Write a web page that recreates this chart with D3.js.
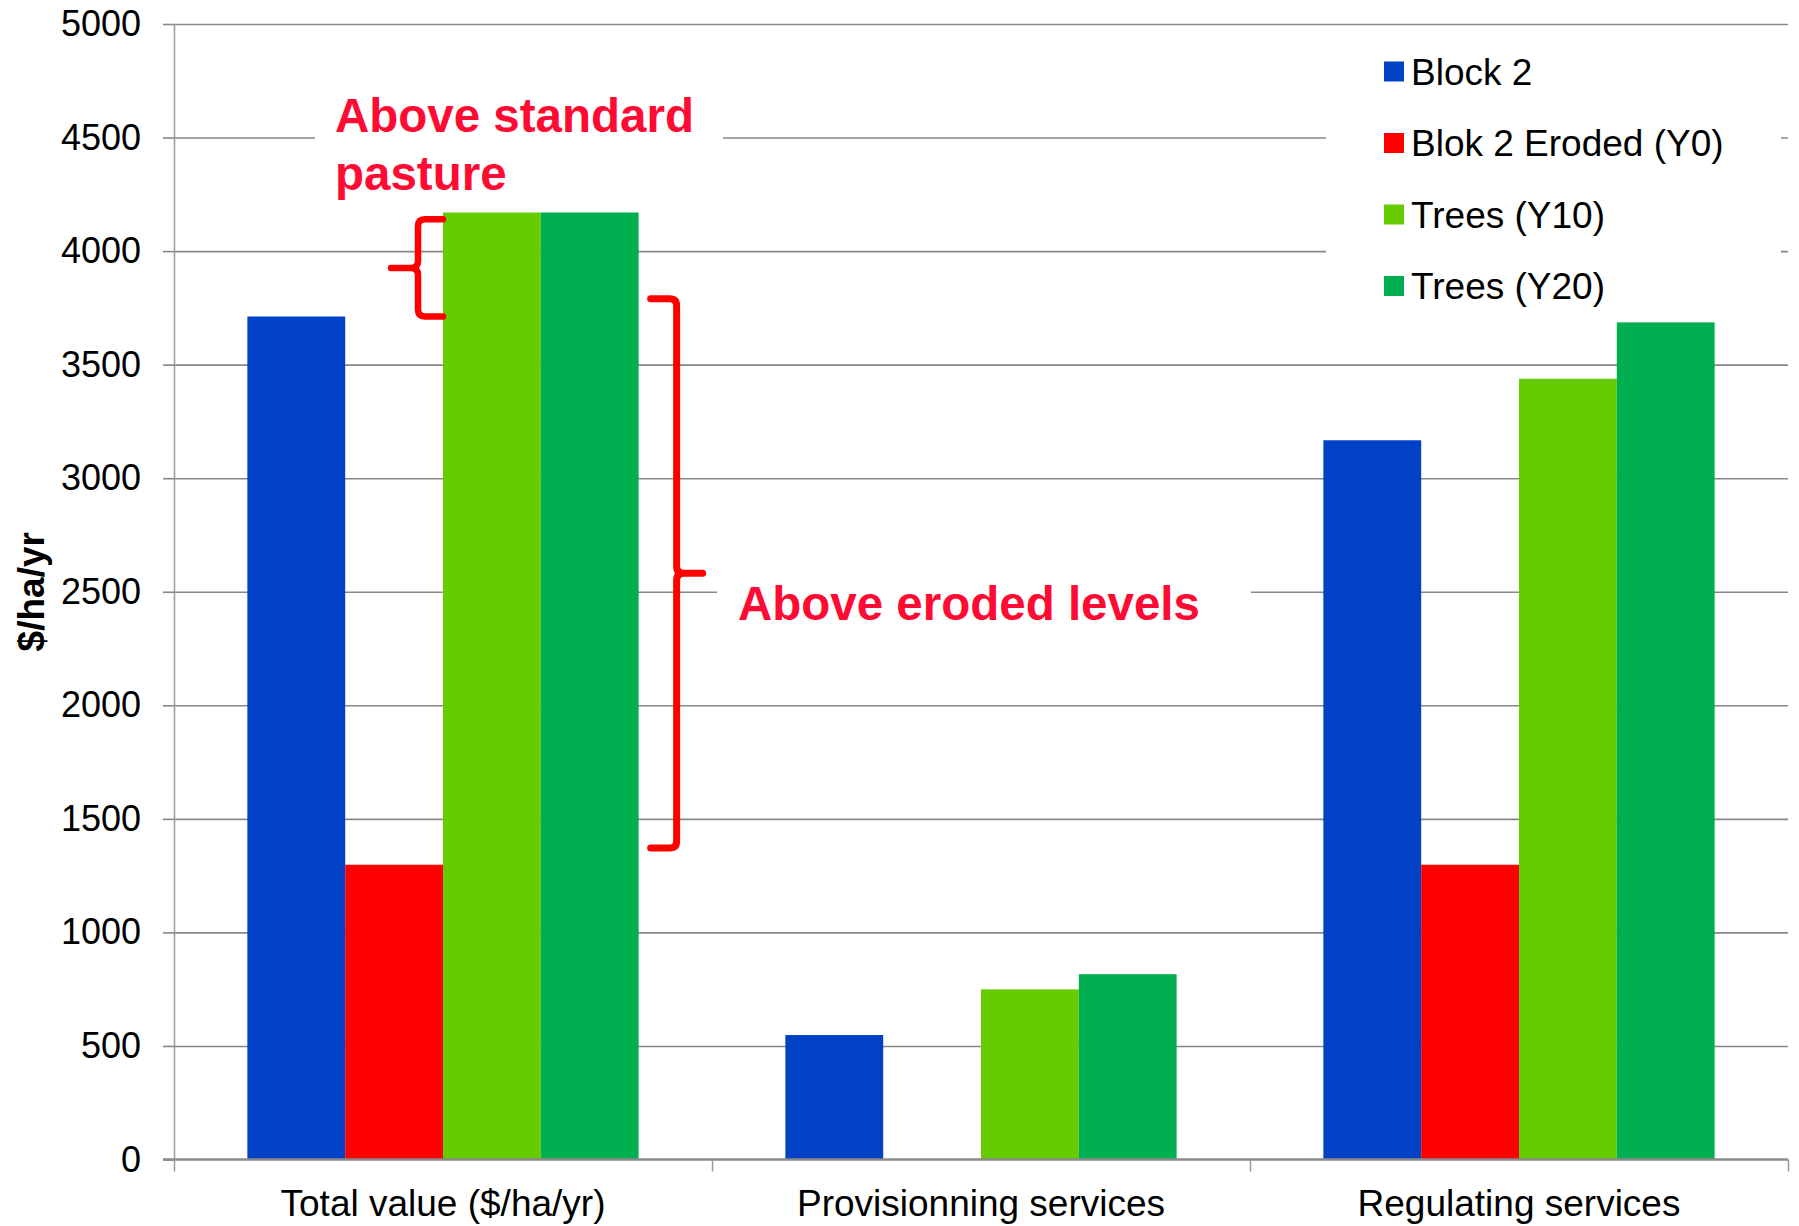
<!DOCTYPE html>
<html>
<head>
<meta charset="utf-8">
<script src="https://cdn.jsdelivr.net/npm/d3@7"></script>
<style>
  html, body { margin: 0; padding: 0; background: #fff; }
  svg { display: block; font-family: "Liberation Sans", Arial, sans-serif; }
</style>
</head>
<body>
<svg id="chart" width="1799" height="1226"></svg>
<script>
// Ecosystem service values per hectare per year
const categories = ["Total value ($/ha/yr)", "Provisionning services", "Regulating services"];
const seriesNames = ["Block 2", "Blok 2 Eroded (Y0)", "Trees (Y10)", "Trees (Y20)"];
const seriesColors = ["#0041c6", "#ff0000", "#66cc00", "#00af50"];
const block2 = [3712, 548, 3167];
const block2Eroded = [1298, 0, 1298];
const treesY10 = [4170, 749, 3438];
const treesY20 = [4170, 816, 3686];
const seriesValues = [block2, block2Eroded, treesY10, treesY20];
const yTicks = [0, 500, 1000, 1500, 2000, 2500, 3000, 3500, 4000, 4500, 5000];

const svg = d3.select("#chart");
const plot = { left: 174, right: 1788, top: 24, bottom: 1159.5 };

const y = d3.scaleLinear().domain([0, 5000]).range([plot.bottom, plot.top]);
const x0 = d3.scaleBand().domain(categories).range([plot.left, plot.right]).padding(0);
const band = x0.bandwidth();
const barW = band / 5.5;             // gap width of 150 %
const gap = barW * 0.75;
const x1 = d3.scaleBand().domain(seriesNames).range([gap, band - gap]).padding(0);

// horizontal gridlines
svg.append("g")
  .attr("transform", `translate(${plot.left},0)`)
  .call(d3.axisLeft(y).tickValues(yTicks.filter(v => v > 0)).tickSize(-(plot.right - plot.left)).tickFormat(""))
  .call(g => g.select(".domain").remove())
  .call(g => g.selectAll("line").attr("stroke", "#878787").attr("stroke-width", 1.6));

// white boxes behind the annotations and legend interrupt the gridlines
svg.append("rect").attr("x", 315).attr("y", 84).attr("width", 408).attr("height", 118).attr("fill", "#fff");
svg.append("rect").attr("x", 717).attr("y", 556).attr("width", 534).attr("height", 90).attr("fill", "#fff");
svg.append("rect").attr("x", 1326).attr("y", 36).attr("width", 455).attr("height", 296).attr("fill", "#fff");

// y axis with outer ticks and labels
const yAxis = svg.append("g")
  .attr("transform", `translate(${plot.left},0)`)
  .call(d3.axisLeft(y).tickValues(yTicks).tickSize(11).tickPadding(22).tickFormat(d3.format("d")));
yAxis.select(".domain").attr("stroke", "#9a9a9a").attr("stroke-width", 1.5).attr("d", `M0.5,${plot.top}V${plot.bottom}`);
yAxis.selectAll(".tick line").attr("stroke", "#878787").attr("stroke-width", 1.6);
yAxis.selectAll(".tick text").attr("font-size", 36).attr("fill", "#000")
  .attr("font-family", "Liberation Sans, Arial, sans-serif");

// bars
const groups = svg.append("g").selectAll("g")
  .data(categories)
  .join("g")
  .attr("transform", d => `translate(${x0(d)},0)`);

groups.selectAll("rect")
  .data((d, ci) => seriesNames.map((s, si) => ({ s, si, v: seriesValues[si][ci] })))
  .join("rect")
  .attr("x", d => x1(d.s))
  .attr("width", x1.bandwidth())
  .attr("y", d => y(d.v))
  .attr("height", d => y(0) - y(d.v))
  .attr("fill", d => seriesColors[d.si]);

// category axis along zero
const xAxis = svg.append("g")
  .attr("transform", `translate(0,${plot.bottom})`)
  .call(d3.axisBottom(x0).tickSize(0).tickPadding(30));
xAxis.select(".domain").remove();
xAxis.selectAll(".tick text").attr("font-size", 37).attr("fill", "#000")
  .attr("font-family", "Liberation Sans, Arial, sans-serif");
svg.append("line")
  .attr("x1", plot.left - 11).attr("x2", plot.right)
  .attr("y1", plot.bottom).attr("y2", plot.bottom)
  .attr("stroke", "#8a8a8a").attr("stroke-width", 2.5);
const boundaries = categories.map(c => x0(c)).concat([plot.right]);
svg.append("g").selectAll("line")
  .data(boundaries)
  .join("line")
  .attr("x1", d => d + 0.5).attr("x2", d => d + 0.5)
  .attr("y1", plot.bottom).attr("y2", plot.bottom + 12)
  .attr("stroke", "#9a9a9a").attr("stroke-width", 1.5);

// y axis title
svg.append("text")
  .attr("transform", `translate(44,${(plot.top + plot.bottom) / 2}) rotate(-90)`)
  .attr("text-anchor", "middle")
  .attr("font-size", 37).attr("font-weight", "bold").attr("fill", "#000")
  .text("$/ha/yr");

// curly brace: vertical spine at xs, arms reaching to xe, tip pointing toward xt
function brace(xs, xe, xt, yTop, yBot) {
  const r = 7;
  const dirArm = Math.sign(xe - xs);
  const dirTip = Math.sign(xt - xs);
  const ym = (yTop + yBot) / 2;
  const p = d3.path();
  p.moveTo(xe, yTop);
  p.lineTo(xs + dirArm * r, yTop);
  p.quadraticCurveTo(xs, yTop, xs, yTop + r);
  p.lineTo(xs, ym - r);
  p.quadraticCurveTo(xs, ym, xs + dirTip * r, ym);
  p.lineTo(xt, ym);
  p.moveTo(xs + dirTip * r, ym);
  p.quadraticCurveTo(xs, ym, xs, ym + r);
  p.lineTo(xs, yBot - r);
  p.quadraticCurveTo(xs, yBot, xs + dirArm * r, yBot);
  p.lineTo(xe, yBot);
  return p.toString();
}

const totalX = x0(categories[0]);
const y10Left = totalX + x1(seriesNames[2]);
const y20Right = totalX + x1(seriesNames[3]) + x1.bandwidth();

svg.append("path")
  .attr("d", brace(y10Left - 25, y10Left, y10Left - 52, y(4140), y(3712)))
  .attr("fill", "none").attr("stroke", "#ff0000").attr("stroke-width", 6.5)
  .attr("stroke-linecap", "round").attr("stroke-linejoin", "round");

svg.append("path")
  .attr("d", brace(y20Right + 38, y20Right + 12, y20Right + 64, y(3790), y(1372)))
  .attr("fill", "none").attr("stroke", "#ff0000").attr("stroke-width", 7)
  .attr("stroke-linecap", "round").attr("stroke-linejoin", "round");

// annotation labels
const noteColor = "#ff0a32";
const note1 = svg.append("text").attr("font-size", 47.5).attr("font-weight", "bold").attr("fill", noteColor);
note1.append("tspan").attr("x", 335).attr("y", 132).text("Above standard");
note1.append("tspan").attr("x", 335).attr("y", 190).text("pasture");
svg.append("text").attr("x", 738).attr("y", 620)
  .attr("font-size", 47.5).attr("font-weight", "bold").attr("fill", noteColor)
  .text("Above eroded levels");

// legend
const legend = svg.append("g").selectAll("g")
  .data(seriesNames)
  .join("g")
  .attr("transform", (d, i) => `translate(1384,${71.5 + i * 71.5})`);
legend.append("rect").attr("x", 0).attr("y", -10).attr("width", 20).attr("height", 20)
  .attr("fill", (d, i) => seriesColors[i]);
legend.append("text").attr("x", 27).attr("y", 13)
  .attr("font-size", 37).attr("fill", "#000")
  .text(d => d);
</script>
</body>
</html>
